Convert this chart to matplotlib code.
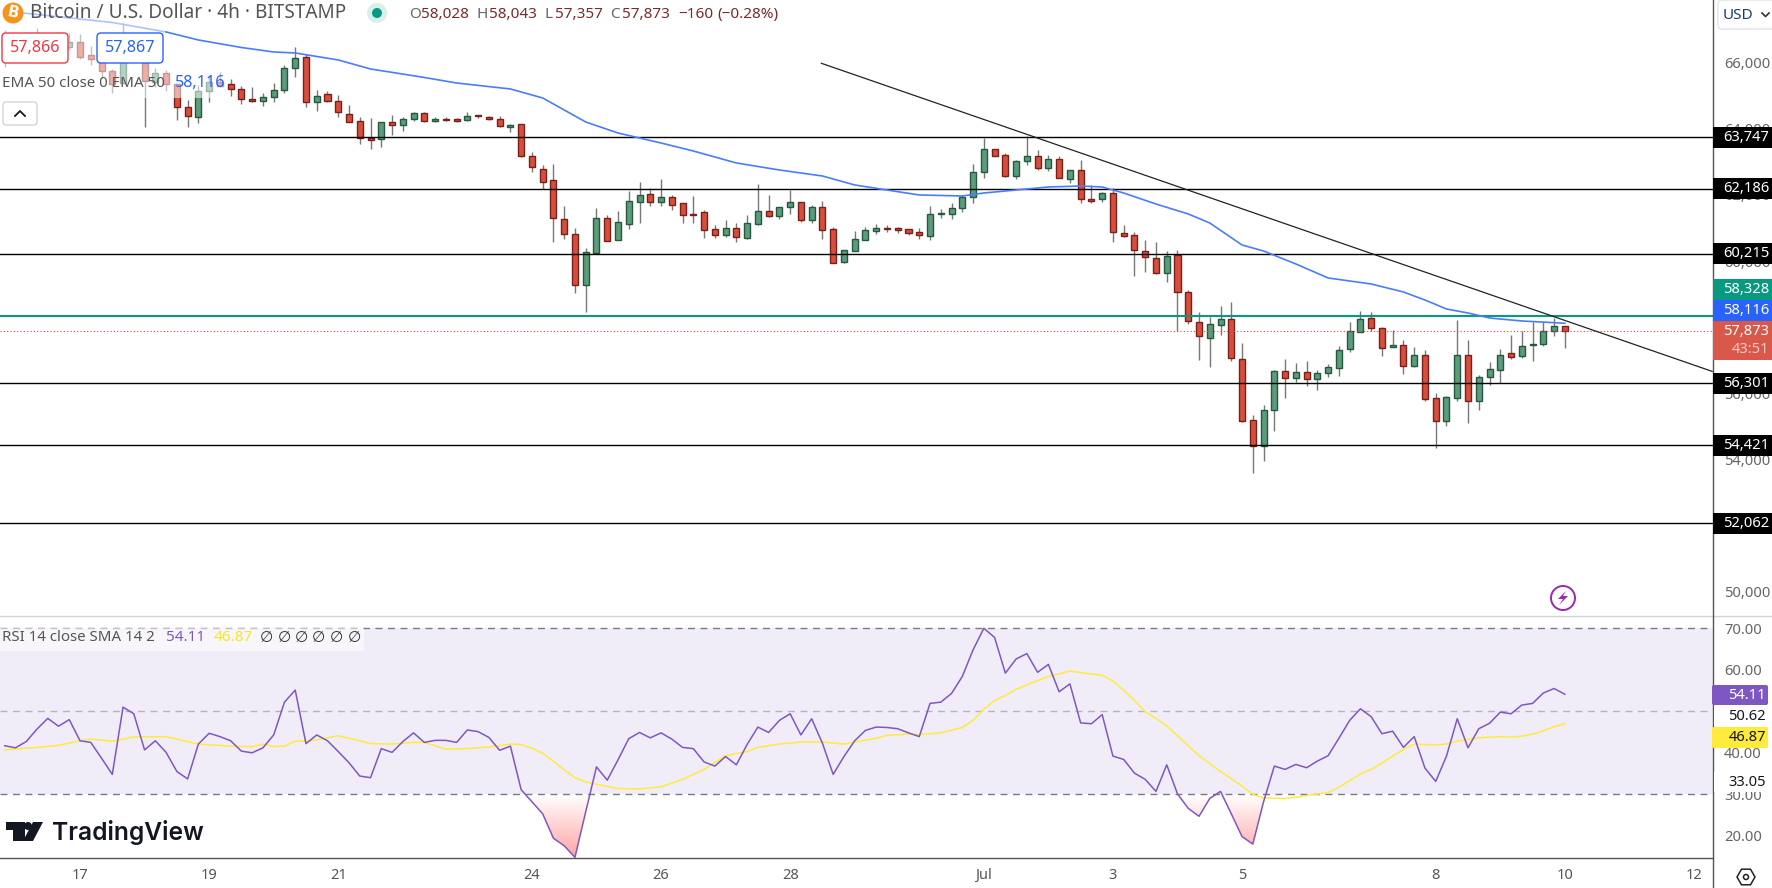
import numpy as np
import matplotlib
matplotlib.use("Agg")
import matplotlib.pyplot as plt
from matplotlib.patches import Rectangle, FancyBboxPatch, Circle, Polygon, RegularPolygon, PathPatch
from matplotlib.lines import Line2D
from matplotlib.path import Path
from matplotlib.transforms import IdentityTransform

opens = [66700,66500,66650,66800,66600,66700,66492,66623,66229,66129,65755,65382,66290,66007,65432,65685,65352,64655,64373,65140,
         65412,65351,65200,64907,64857,64958,65170,65856,66169,64806,65049,64837,64443,64231,63727,63697,64201,64110,64292,64473,
         64231,64302,64292,64262,64413,64373,64292,64050,64140,63172,62799,62445,61265,60811,59267,60256,61295,60649,61134,61800,
         62022,61800,61931,61749,61426,61477,60962,60801,60992,60710,61134,61507,61376,61628,61779,61255,61628,60962,59983,60316,
         60649,60922,61003,60992,60962,60871,60770,61436,61436,61618,61931,62688,63384,63202,62587,63041,63172,62829,63081,62496,
         62748,61880,61889,62051,60840,60779,60316,60094,59630,60195,59065,58157,57662,58056,58247,57037,55190,54393,55483,56673,
         56451,56643,56431,56613,56754,57339,57854,58278,57965,57400,57450,56815,57158,55856,55160,55856,57158,55755,56492,56704,
         57218,57127,57450,57481,57884,58033]
highs = [67000,66900,66950,67050,66850,66950,66916,66875,66512,66200,65800,67198,66500,66100,65836,65786,65400,64877,65331,65634,
         65715,65503,65301,65261,65079,65382,65937,66471,66259,65180,65150,65028,64716,64352,64322,64221,64413,64352,64514,64514,
         64352,64373,64332,64504,64433,64403,64393,64151,64150,63293,62910,62940,61668,60992,60387,61598,61386,61517,62122,62395,
         62203,62486,62001,61749,61971,61547,61083,61235,61144,61396,62334,62001,61628,62153,61779,61689,61820,61043,60326,60912,
         61033,61114,61083,61033,60982,61003,61658,61578,61749,62001,62940,63737,63404,63263,63051,63797,63353,63202,63172,62748,
         63051,62294,62091,62202,61092,60880,60638,60578,60316,60346,59135,58469,58318,58651,58772,57521,55352,55654,56714,57047,
         56916,56986,56694,56895,57440,58147,58500,58469,58005,57925,57622,57400,57319,56007,55906,58227,57622,56552,56956,57349,
         57773,57884,58147,58147,58278,58043]
lows = [65866,66250,66450,66500,66350,66500,66391,66108,65937,65533,65099,65382,66050,64070,65281,65150,64272,64070,64171,64827,
        65281,65000,64756,64827,64706,64827,65099,65583,64655,64554,64827,64373,64201,63535,63384,63464,63818,63949,64252,64221,
        64211,64241,64211,64252,64342,64262,64060,63919,63162,62708,62173,60589,60680,59045,58470,60256,60619,60649,60982,61164,
        61679,61679,61557,61164,61164,60710,60710,60740,60589,60680,61103,61346,61285,61426,61194,61164,60680,59953,59953,60316,
        60649,60821,60891,60861,60801,60680,60649,61295,61285,61497,61769,62526,63192,62556,62496,62920,62768,62738,62526,62375,
        61769,61769,61798,60588,60739,59558,59680,59600,59357,57894,58086,57000,56784,57773,56966,55140,53576,53939,54867,55866,
        56351,56230,56088,56502,56532,57238,57844,57874,57117,57390,56593,56785,55755,54342,55000,55755,55089,55483,56250,56310,
        57027,57057,56966,57420,57743,57357]
closes = [66500,66650,66800,66600,66700,66550,66623,66189,66129,65765,65352,66290,66150,65463,65685,65352,64676,64403,65150,65412,
          65311,65200,64897,64857,64958,65170,65836,66138,64806,64988,64837,64504,64201,63717,63656,64201,64110,64292,64473,64231,
          64292,64282,64231,64403,64393,64292,64080,64110,63172,62839,62385,61295,60811,59267,60266,61295,60619,61174,61810,61991,
          61779,61931,61709,61406,61406,60952,60801,60992,60740,61144,61507,61376,61628,61779,61255,61628,60952,59953,60326,60659,
          60932,60992,60982,60952,60861,60801,61416,61456,61598,61931,62688,63384,63192,62587,63021,63172,62829,63081,62526,62748,
          61870,61830,62051,60870,60769,60325,60114,59630,60154,59065,58187,57723,58096,58247,57057,55170,54393,55493,56673,56462,
          56643,56431,56613,56795,57309,57884,58247,57965,57370,57460,56825,57158,55816,55160,55886,57158,55765,56492,56734,57158,
          57087,57430,57491,57884,58036,57873]

ema_bars = [0,10,15,18,22,25,27,31,34,39,42,47,50,52,54,57,61,64,68,72,76,79,82,85,89,91,94,97,100,102,104,107,110,112,115,117,120,123,127,130,132,134,136,138,141,145]
ema_vals = [67571,67223,66936,66693,66466,66330,66300,66088,65815,65558,65391,65210,64937,64574,64210,63877,63574,63332,62969,62757,62575,62303,62151,62000,61970,62060,62151,62242,62272,62242,62060,61727,61425,61152,60486,60304,59911,59487,59305,59063,58820,58548,58427,58275,58185,58116]

rsi_vals = [41.7,41.2,42.7,45.7,48.3,46.4,48.0,42.9,42.5,38.7,34.8,51.0,49.4,40.7,42.9,40.1,35.5,33.7,42.1,44.7,43.9,42.9,40.4,40.0,41.2,44.3,52.2,55.1,42.2,44.3,42.9,40.3,37.6,34.4,34.0,41.0,40.1,42.7,44.8,42.5,43.0,43.0,42.5,45.5,45.1,43.7,40.6,41.6,31.1,28.2,25.3,19.4,17.6,14.8,25.8,36.6,
            33.4,38.3,43.4,44.9,43.6,44.8,43.3,41.3,41.0,37.8,36.8,39.1,37.1,42.0,46.2,44.9,47.8,49.4,44.3,48.2,42.3,34.8,39.1,42.9,45.4,46.2,46.1,45.8,44.8,43.9,51.9,52.2,54.3,58.4,64.8,70.0,67.8,59.2,62.6,63.9,59.4,61.3,54.7,56.6,47.2,47.0,49.2,39.2,38.4,35.1,33.6,30.7,37.1,30.1,26.6,24.7,
            29.0,30.7,25.3,19.8,18.0,28.2,36.8,36.0,37.2,36.4,38.0,39.3,43.5,47.8,50.6,48.7,44.6,45.2,41.3,43.9,36.3,33.1,39.2,48.2,41.2,45.8,47.1,49.8,49.4,51.5,51.9,54.4,55.5,54.1]

sma_bars = [0,3,5,7,8,10,12,15,18,21,23,24,25,26,27,28,29,31,33,34,36,38,39,41,43,45,47,48,49,50,51,52,53,54,55,56,57,59,61,63,65,67,69,70,72,74,76,78,79,81,82,84,85,87,89,90,91,92,93,94,96,97,98,99,101,102,103,104,105,106,107,108,109,110,111,112,113,114,115,116,117,119,120,121,123,124,125,126,127,128,129,130,131,133,134,135,137,139,140,141,142,143,144,145]
sma_vals = [40.7,41.3,41.8,42.9,43.3,42.8,43.8,43.9,42.1,41.6,41.5,42.1,41.5,41.6,42.8,42.8,43.1,44.1,42.9,42.2,42.1,42.5,42.5,40.9,41.0,41.4,42.1,42.0,41.1,39.9,38.0,35.9,34.0,33.0,32.4,31.9,31.4,31.3,31.8,33.6,36.0,39.3,40.3,41.3,42.1,42.6,42.6,42.1,42.6,43.5,44.2,44.5,44.4,44.8,46.1,47.8,50.5,52.6,53.8,55.3,57.4,58.4,59.0,59.7,59.0,58.7,57.3,55.1,52.6,49.9,48.3,46.5,44.1,41.7,39.3,37.4,35.5,33.8,32.0,30.0,29.1,29.0,29.3,29.7,30.4,31.7,33.3,34.9,36.0,37.5,39.2,40.8,42.1,41.9,42.1,42.8,43.6,43.9,43.8,44.0,44.5,45.3,46.3,47.0]

level_prices = [63747, 62186, 60215, 56301, 54421, 52062]
level_labels = ["63,747", "62,186", "60,215", "56,301", "54,421", "52,062"]
ask_price = 58328
last_price = 57873
trend_bars = [75.9, 158.7]
trend_prices = [65988, 56658]

price_ticks = [50000, 54000, 56000, 58000, 60000, 62000, 64000, 66000]
price_tick_labels = ["50,000", "54,000", "56,000", "58,000", "60,000", "62,000", "64,000", "66,000"]
rsi_ticks = [20, 30, 40, 60, 70]
rsi_tick_labels = ["20.00", "30.00", "40.00", "60.00", "70.00"]
date_bars = [7, 19, 31, 49, 61, 73, 91, 103, 115, 133, 145, 157]
date_labels = ["17", "19", "21", "24", "26", "28", "Jul", "3", "5", "8", "10", "12"]

W, H = 1772, 888
FONT = "Noto Sans"
plt.rcParams["font.family"] = FONT
fig = plt.figure(figsize=(W / 100, H / 100), dpi=100, facecolor="white")
ID = IdentityTransform()
AXIS_X = 1713
PANE_SPLIT = 616
PANE_BOTTOM = 858

def axes_px(x0, y0, x1, y1):
    return fig.add_axes([x0 / W, 1 - y1 / H, (x1 - x0) / W, (y1 - y0) / H])

XLIM = (-0.437, 158.77)
ax = axes_px(0, 0, AXIS_X, PANE_SPLIT)
axr = axes_px(0, PANE_SPLIT, AXIS_X, PANE_BOTTOM)
for a in (ax, axr):
    a.set_xlim(*XLIM)
    a.set_facecolor("white")
    for s in a.spines.values():
        s.set_visible(False)
ax.set_ylim(49252, 67904)
axr.set_ylim(14.65, 72.96)

bars = np.arange(len(opens))
o, h, l, c = map(np.array, (opens, highs, lows, closes))
up = c >= o
RED, RED_E = "#d64f3c", "#7a1f1a"
GREEN, GREEN_E = "#5c9c7b", "#24593f"
ax.vlines(bars, l, h, color="#777777", lw=1.0, zorder=3)
ax.bar(bars[up], (c - o)[up], bottom=o[up], width=0.56, color=GREEN, edgecolor=GREEN_E, lw=1.0, zorder=4)
ax.bar(bars[~up], (o - c)[~up], bottom=c[~up], width=0.56, color=RED, edgecolor=RED_E, lw=1.0, zorder=4)
for p in level_prices:
    ax.axhline(p, color="black", lw=1.0, zorder=5)
ax.axhline(ask_price, color="#089981", lw=1.5, zorder=5)
ax.axhline(last_price, color="#e0483a", lw=0.8, ls=(0, (1, 2)), zorder=5)
ax.plot(ema_bars, ema_vals, color="#4a7cff", lw=1.2, zorder=6)
ax.plot(trend_bars, trend_prices, color="#222222", lw=0.9, zorder=6)
ax.yaxis.tick_right()
ax.set_yticks(price_ticks, price_tick_labels)
ax.tick_params(axis="y", length=0, pad=8, labelsize=10.6, labelcolor="#666666")
ax.set_xticks([])

axr.axhspan(30, 70, color="#7e57c2", alpha=0.1, lw=0, zorder=1)
for lev, col in ((70, "#787b86"), (50, "#b5b3bd"), (30, "#787b86")):
    axr.axhline(lev, color=col, lw=1.0, ls=(0, (5, 4)), zorder=2)
rsi = np.array(rsi_vals)
poly = axr.fill_between(bars, rsi, 30, where=rsi < 30, interpolate=True, color="none", lw=0)
grad = np.ones((64, 2, 4))
grad[..., 0] = 1.0
grad[..., 1] = 0.64
grad[..., 2] = 0.64
grad[..., 3] = np.linspace(0, 1, 64)[:, None]
im = axr.imshow(grad, origin="upper", extent=[XLIM[0], XLIM[1], 14.65, 30], aspect="auto", zorder=2)
axr.set_xlim(*XLIM)
axr.set_ylim(14.65, 72.96)
clip = PathPatch(Path.make_compound_path(*poly.get_paths()), transform=axr.transData, fc="none", ec="none")
axr.add_patch(clip)
im.set_clip_path(clip)
axr.plot(bars, rsi, color="#7e57c2", lw=1.1, zorder=4)
axr.plot(sma_bars, sma_vals, color="#ffeb3b", lw=1.1, zorder=3)
axr.yaxis.tick_right()
axr.set_yticks(rsi_ticks, rsi_tick_labels)
axr.tick_params(axis="y", length=0, pad=8, labelsize=10.6, labelcolor="#666666")
axr.set_xticks(date_bars, date_labels)
axr.tick_params(axis="x", length=0, pad=7, labelsize=10.5, labelcolor="#555555")
for t in axr.get_xticklabels():
    if t.get_text() == "Jul":
        t.set_fontweight("bold")


def P(x, y):
    return (x, H - y)

def box(x0, y0, x1, y1, fc, ec="none", lw=0, alpha=None, z=10, round_=0):
    if round_:
        art = FancyBboxPatch(P(x0, y1), x1 - x0, y1 - y0, boxstyle=f"round,pad=0,rounding_size={round_}",
                             fc=fc, ec=ec, lw=lw, alpha=alpha, transform=ID, zorder=z)
    else:
        art = Rectangle(P(x0, y1), x1 - x0, y1 - y0, fc=fc, ec=ec, lw=lw, alpha=alpha, transform=ID, zorder=z)
    fig.add_artist(art)

def txt(x, y, s, color="#555555", size=11, ha="left", weight="normal", z=12, family=None, rotation=0):
    fig.text(x, H - y, s, color=color, fontsize=size, ha=ha, va="center", fontweight=weight,
             transform=ID, zorder=z, family=family or FONT, rotation=rotation)

# frame lines
fig.add_artist(Line2D([0, W], [H - PANE_SPLIT] * 2, color="#d1d4dc", lw=1.0, transform=ID, zorder=9))
fig.add_artist(Line2D([0, AXIS_X], [H - PANE_BOTTOM] * 2, color="#555555", lw=1.0, transform=ID, zorder=9))
fig.add_artist(Line2D([AXIS_X, AXIS_X], [0, H], color="#555555", lw=1.0, transform=ID, zorder=9))

# legend veils and header
box(0, 0, 356, 22, "white", alpha=0.55)
box(0, 22, 165, 66, "white", alpha=0.55)
box(0, 66, 226, 98, "white", alpha=0.55)
fig.add_artist(Circle(P(13, 13), 10.5, fc="#f7931a", ec="none", transform=ID, zorder=11))
txt(13, 13, "B", color="white", size=10.5, ha="center", weight="bold", family="DejaVu Sans", rotation=-12)
txt(30, 13, "Bitcoin / U.S. Dollar \u00b7 4h \u00b7 BITSTAMP", color="#555555", size=13.7)
fig.add_artist(Circle(P(377, 13), 10, fc="#d8efeb", ec="none", transform=ID, zorder=11))
fig.add_artist(Circle(P(377, 13), 5, fc="#089981", ec="none", transform=ID, zorder=12))
DR = "#7b2a2a"
for x, s, col in [(409, "O", "#666666"), (421, "58,028", DR), (477, "H", "#666666"), (489, "58,043", DR),
                  (545, "L", "#666666"), (555, "57,357", DR), (610, "C", "#666666"), (622, "57,873", DR),
                  (678, "\u2212160", DR), (717, "(\u22120.28%)", DR)]:
    txt(x, 14, s, color=col, size=11)
box(2, 33, 68, 63, "white", ec="#f23645", lw=1.0, round_=4)
txt(35, 48, "57,866", color="#f23645", size=11.6, ha="center")
box(97, 33, 163, 63, "white", ec="#2962ff", lw=1.0, round_=4)
txt(130, 48, "57,867", color="#2962ff", size=11.6, ha="center")
txt(2, 83, "EMA 50 close 0 EMA 50", color="#555555", size=10.9)
txt(175, 83, "58,116", color="#2962ff", size=11.6)
box(3, 102, 37, 125, "white", ec="#d1d4dc", lw=1.0, round_=3)
fig.add_artist(Line2D([15, 20, 25], [H - 116, H - 111, H - 116], color="#131722", lw=1.3, transform=ID, zorder=12))

# right axis
box(1718, 0, 1776, 29, "white", ec="#e0e3eb", lw=1.0, round_=4)
txt(1723, 15, "USD", color="#1c3a6e", size=11)
fig.add_artist(Line2D([1762, 1765.5, 1769], [H - 13, H - 16.5, H - 13], color="#333333", lw=1.2, transform=ID, zorder=12))
LBL = 10.6
for p, s in zip(level_prices, level_labels):
    yc = 137.3 + (63747 - p) / 30.28
    box(AXIS_X, yc - 10.5, W, yc + 10.5, "black", z=10)
    txt(W - 3, yc, s, color="white", size=LBL, ha="right")
box(AXIS_X, 279, W, 300, "#089981")
txt(W - 3, 289.5, "58,328", color="white", ha="right", size=LBL)
box(AXIS_X, 300, W, 321, "#2962ff")
txt(W - 3, 310.5, "58,116", color="white", ha="right", size=LBL)
box(AXIS_X, 321, W, 360, "#d9584a")
txt(W - 3, 331, "57,873", color="white", ha="right", size=LBL)
txt(W - 3, 349, "43:51", color="#f5c9c3", ha="right", size=LBL)

# RSI legend
box(0, 628, 364, 651, "white", alpha=0.55)
txt(2, 637, "RSI 14 close SMA 14 2", color="#555555", size=10.8)
txt(166, 637, "54.11", color="#7e57c2", size=11)
txt(213.5, 637, "46.87", color="#f7e52a", size=11, weight="bold")
for x in (266, 284, 301, 318, 336, 354):
    txt(x, 637, "\u2205", color="#333333", size=11, ha="center", family="DejaVu Sans")

# RSI axis labels
box(AXIS_X - 1, 685, 1768, 705, "#7e57c2", round_=2)
txt(1766, 695, "54.11", color="white", ha="right", size=10.6)
box(AXIS_X + 1, 706, 1768, 726, "white")
txt(1766, 716, "50.62", color="#131722", ha="right", size=10.6)
box(AXIS_X - 1, 727, 1768, 748, "#ffeb3b", round_=2)
txt(1766, 737.5, "46.87", color="#131722", ha="right", size=10.6)
box(AXIS_X + 1, 772, 1768, 792, "white")
txt(1766, 782, "33.05", color="#131722", ha="right", size=10.6)

# bolt marker
fig.add_artist(Circle(P(1563, 598), 12, fc="white", ec="#9c27b0", lw=1.4, transform=ID, zorder=11))
fig.add_artist(Polygon([P(1566, 591), P(1558, 599), P(1563, 599), P(1559, 605), P(1568, 596), P(1563, 596)],
                       fc="#9c27b0", ec="none", transform=ID, zorder=12))

# settings icon
fig.add_artist(RegularPolygon(P(1746, 877), 6, radius=9, orientation=np.pi / 6, fc="white", ec="#222222", lw=1.1, transform=ID, zorder=11))
fig.add_artist(Circle(P(1746, 877), 2.5, fc="white", ec="#222222", lw=1.1, transform=ID, zorder=12))

# TradingView logo
LOGO = "#131722"
fig.add_artist(Polygon([P(6, 822), P(25, 822), P(25, 841), P(13, 841), P(13, 830), P(6, 830)], fc=LOGO, ec="none", transform=ID, zorder=12))
fig.add_artist(Circle(P(28, 826), 4, fc=LOGO, ec="none", transform=ID, zorder=12))
fig.add_artist(Polygon([P(33, 822), P(43, 822), P(33, 841), P(23, 841)], fc=LOGO, ec="none", transform=ID, zorder=12))
txt(52, 832, "TradingView", color=LOGO, size=17.7, weight="semibold", family="Inter")

fig.savefig("out.png", dpi=100, facecolor="white")
